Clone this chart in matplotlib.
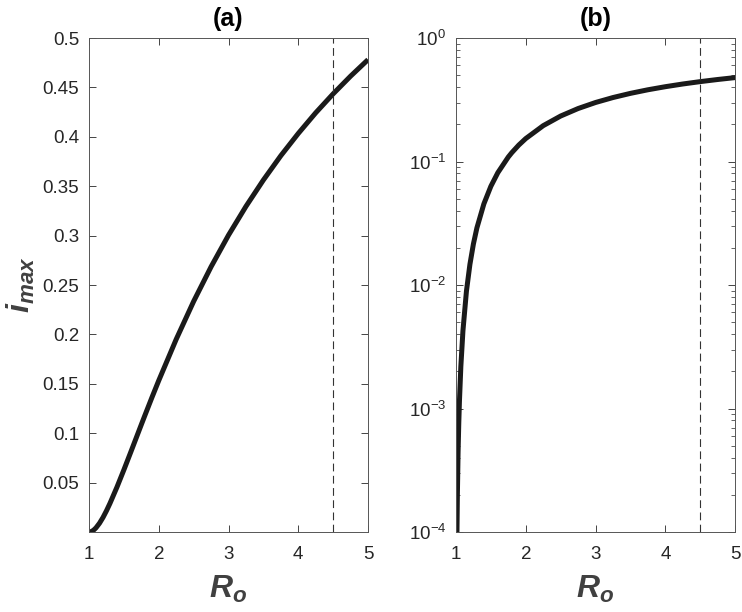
import matplotlib
matplotlib.use('Agg')
import matplotlib.pyplot as plt
from matplotlib.ticker import LogFormatterMathtext, LogLocator

# values (R0 vs peak infected fraction)
r0 = [1.0, 1.01, 1.015, 1.02, 1.03, 1.04, 1.05, 1.07, 1.1, 1.15, 1.2, 1.25,
      1.3, 1.4, 1.5, 1.6, 1.75, 1.8, 1.9, 2.0, 2.25, 2.5, 2.75, 3.0, 3.25,
      3.5, 3.75, 4.0, 4.25, 4.5, 4.75, 5.0]
i_max = [0.0, 4.9e-5, 1.1e-4, 1.94e-4, 4.3e-4, 7.5e-4, 1.15e-3, 2.19e-3,
         4.26e-3, 8.9e-3, 0.0147, 0.0215, 0.0290, 0.0454, 0.0630, 0.0812,
         0.1088, 0.1179, 0.1359, 0.1534, 0.1951, 0.2335, 0.2685, 0.3005,
         0.3296, 0.3563, 0.3809, 0.4034, 0.4243, 0.4435, 0.4614, 0.4781]
r0_threshold = 4.5

titles = ['(a)', '(b)']
lin_ticks = [0.05, 0.1, 0.15, 0.2, 0.25, 0.3, 0.35, 0.4, 0.45, 0.5]
lin_labels = ['0.05', '0.1', '0.15', '0.2', '0.25', '0.3', '0.35', '0.4', '0.45', '0.5']

plt.rcParams['font.family'] = ['Liberation Sans', 'DejaVu Sans']
plt.rcParams['mathtext.fontset'] = 'custom'
plt.rcParams['mathtext.rm'] = 'Liberation Sans'
plt.rcParams['mathtext.it'] = 'Liberation Sans:italic'
plt.rcParams['mathtext.bf'] = 'Liberation Sans:bold'
plt.rcParams['mathtext.bfit'] = 'Liberation Sans:bold:italic'
plt.rcParams['mathtext.default'] = 'regular'

ink = '#262626'
fig = plt.figure(figsize=(7.42, 6.12), dpi=100)
ax1 = fig.add_axes([0.120, 0.1307, 0.376, 0.8072])
ax2 = fig.add_axes([0.6145, 0.1307, 0.3763, 0.8072])

for ax, title in zip([ax1, ax2], titles):
    ax.plot(r0, i_max, color='#1a1a1a', lw=3.6, solid_capstyle='butt')
    ax.axvline(r0_threshold, color='#333333', lw=0.8, ls=(0, (7, 4)))
    ax.set_xlim(1, 5)
    ax.set_xticks([1, 2, 3, 4, 5])
    ax.set_title(title, fontsize=18, fontweight='bold', color='black', pad=9)
    ax.set_xlabel(r'$\mathbfit{R_o}$', fontsize=23, color='#404040', labelpad=8)
    ax.tick_params(direction='in', length=5, width=0.6, colors=ink,
                   labelsize=13.5, top=True, right=True)
    ax.tick_params(axis='x', pad=10)
    ax.tick_params(axis='y', pad=7)
    ax.tick_params(which='minor', direction='in', length=3, width=0.5,
                   colors=ink, right=True)
    for sp in ax.spines.values():
        sp.set_color('#555555')
        sp.set_linewidth(0.7)

ax1.set_ylim(0, 0.5)
ax1.set_yticks(lin_ticks)
ax1.set_yticklabels(lin_labels)
ax1.set_ylabel(r'$\mathbfit{i_{max}}$', fontsize=23, color='#404040', labelpad=4)

ax2.set_yscale('log', nonpositive='mask')
ax2.set_ylim(1e-4, 1)
ax2.yaxis.set_major_locator(LogLocator(base=10, numticks=10))
ax2.yaxis.set_minor_locator(LogLocator(base=10, subs=range(2, 10), numticks=20))
ax2.yaxis.set_major_formatter(LogFormatterMathtext())

fig.savefig('out.png', dpi=100)
